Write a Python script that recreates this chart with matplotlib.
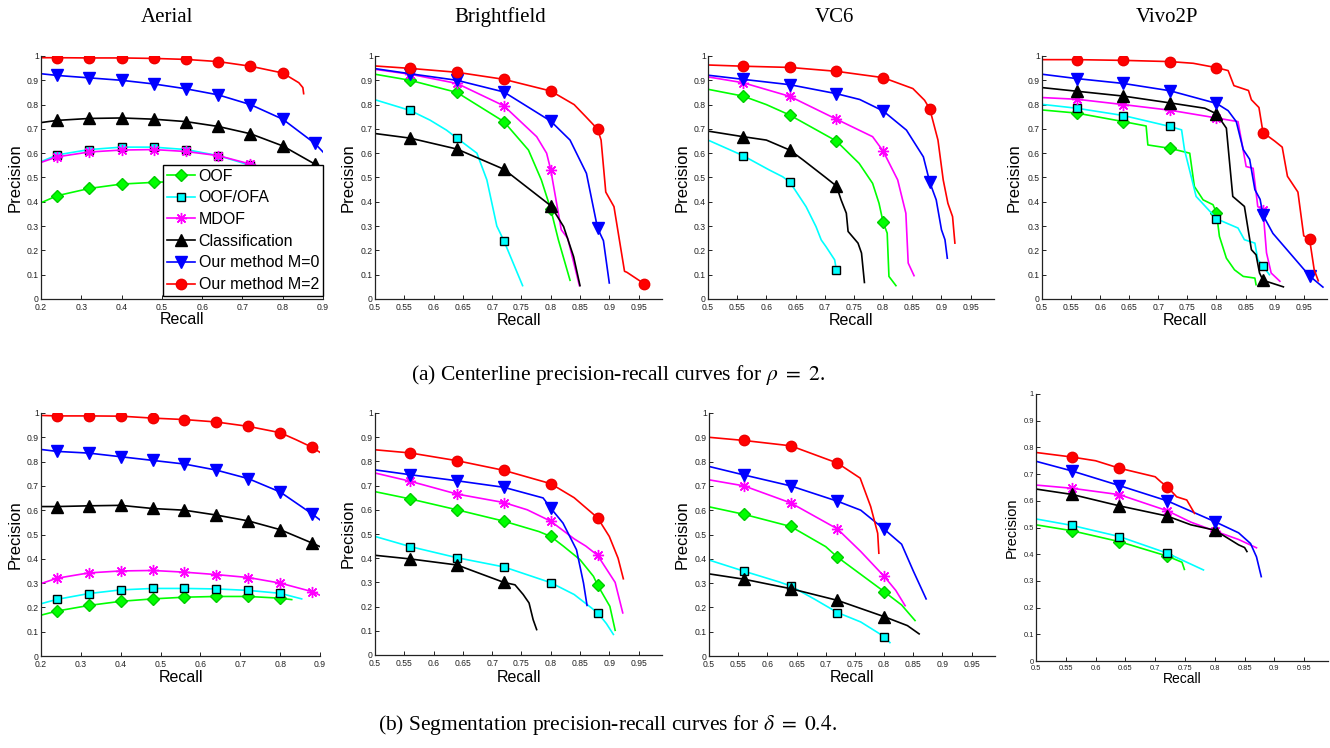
import numpy as np
import matplotlib
matplotlib.use('Agg')
import matplotlib.pyplot as plt

W, H = 1330, 748

METHODS = ['OOF', 'OOF/OFA', 'MDOF', 'Classification', 'Our method M=0', 'Our method M=2']
MARKS_AERIAL = [0.24, 0.32, 0.40, 0.48, 0.56, 0.64, 0.72, 0.80, 0.88]
MARKS_OTHER = [0.56, 0.64, 0.72, 0.80, 0.88, 0.96]

# each entry: (recall, precision)
#(a) centerline, Aerial
aerial_a = {
    'OOF': ([0.20, 0.24, 0.32, 0.40, 0.48, 0.56, 0.64, 0.72, 0.80],
            [0.396, 0.425, 0.455, 0.473, 0.48, 0.485, 0.48, 0.47, 0.455]),
    'OOF/OFA': ([0.20, 0.24, 0.32, 0.40, 0.48, 0.56, 0.64, 0.72, 0.80],
                [0.565, 0.593, 0.615, 0.625, 0.625, 0.615, 0.59, 0.55, 0.50]),
    'MDOF': ([0.20, 0.24, 0.32, 0.40, 0.48, 0.56, 0.64, 0.72, 0.80, 0.88],
             [0.562, 0.585, 0.605, 0.613, 0.615, 0.607, 0.59, 0.555, 0.50, 0.43]),
    'Classification': ([0.20, 0.24, 0.32, 0.40, 0.48, 0.56, 0.64, 0.72, 0.80, 0.88, 0.90],
                       [0.726, 0.735, 0.743, 0.745, 0.74, 0.73, 0.71, 0.68, 0.63, 0.555, 0.523]),
    'Our method M=0': ([0.20, 0.24, 0.32, 0.40, 0.48, 0.56, 0.64, 0.72, 0.80, 0.88, 0.90],
                       [0.927, 0.92, 0.91, 0.90, 0.885, 0.865, 0.84, 0.80, 0.74, 0.64, 0.605]),
    'Our method M=2': ([0.20, 0.24, 0.32, 0.40, 0.48, 0.56, 0.64, 0.72, 0.80, 0.84, 0.85, 0.852],
                       [0.993, 0.993, 0.992, 0.992, 0.99, 0.986, 0.977, 0.958, 0.93, 0.89, 0.87, 0.845]),
}

#(a) Brightfield
bright_a = {
    'OOF': ([0.50, 0.56, 0.64, 0.72, 0.762, 0.784, 0.80, 0.813, 0.833],
            [0.925, 0.90, 0.85, 0.73, 0.613, 0.49, 0.37, 0.244, 0.077]),
    'OOF/OFA': ([0.50, 0.56, 0.594, 0.622, 0.64, 0.674, 0.691, 0.708, 0.72, 0.752],
                [0.82, 0.776, 0.736, 0.695, 0.662, 0.60, 0.49, 0.30, 0.24, 0.055]),
    'MDOF': ([0.50, 0.56, 0.64, 0.72, 0.776, 0.793, 0.80, 0.818, 0.829, 0.849],
             [0.945, 0.925, 0.887, 0.795, 0.668, 0.60, 0.532, 0.285, 0.25, 0.055]),
    'Classification': ([0.50, 0.56, 0.64, 0.72, 0.80, 0.822, 0.839, 0.85],
                       [0.681, 0.662, 0.617, 0.534, 0.384, 0.298, 0.175, 0.055]),
    'Our method M=0': ([0.50, 0.56, 0.64, 0.72, 0.80, 0.833, 0.861, 0.88, 0.89, 0.90],
                       [0.948, 0.927, 0.90, 0.852, 0.732, 0.654, 0.517, 0.291, 0.24, 0.066]),
    'Our method M=2': ([0.50, 0.56, 0.64, 0.72, 0.80, 0.84, 0.86, 0.88, 0.886, 0.894, 0.908, 0.926, 0.93, 0.96],
                       [0.959, 0.949, 0.933, 0.904, 0.856, 0.80, 0.75, 0.699, 0.654, 0.44, 0.38, 0.114, 0.11, 0.062]),
}

#(a) VC6
vc6_a = {
    'OOF': ([0.50, 0.56, 0.60, 0.64, 0.72, 0.759, 0.782, 0.793, 0.80, 0.807, 0.81, 0.822],
            [0.863, 0.835, 0.80, 0.757, 0.65, 0.558, 0.476, 0.394, 0.316, 0.271, 0.093, 0.055]),
    'OOF/OFA': ([0.50, 0.56, 0.605, 0.628, 0.64, 0.668, 0.685, 0.694, 0.702, 0.717, 0.72],
                [0.654, 0.59, 0.531, 0.503, 0.482, 0.38, 0.298, 0.243, 0.216, 0.161, 0.118]),
    'MDOF': ([0.50, 0.56, 0.64, 0.72, 0.782, 0.80, 0.825, 0.839, 0.843, 0.853],
             [0.914, 0.89, 0.834, 0.74, 0.668, 0.609, 0.49, 0.353, 0.148, 0.096]),
    'Classification': ([0.50, 0.56, 0.60, 0.64, 0.663, 0.70, 0.72, 0.728, 0.737, 0.74, 0.757, 0.763, 0.768],
                       [0.691, 0.668, 0.654, 0.613, 0.572, 0.503, 0.465, 0.408, 0.353, 0.278, 0.23, 0.189, 0.068]),
    'Our method M=0': ([0.50, 0.56, 0.64, 0.72, 0.76, 0.80, 0.84, 0.869, 0.88, 0.891, 0.90, 0.906, 0.91],
                       [0.921, 0.904, 0.882, 0.845, 0.821, 0.774, 0.695, 0.585, 0.48, 0.408, 0.285, 0.244, 0.168]),
    'Our method M=2': ([0.50, 0.56, 0.64, 0.72, 0.80, 0.851, 0.871, 0.88, 0.894, 0.903, 0.911, 0.919, 0.923],
                       [0.963, 0.958, 0.953, 0.937, 0.911, 0.866, 0.818, 0.782, 0.654, 0.49, 0.394, 0.339, 0.23]),
}

#(a) Vivo2P
vivo_a = {
    'OOF': ([0.50, 0.56, 0.64, 0.679, 0.682, 0.72, 0.754, 0.762, 0.777, 0.794, 0.80, 0.805, 0.817, 0.831, 0.846, 0.866, 0.868],
            [0.778, 0.765, 0.73, 0.712, 0.634, 0.62, 0.60, 0.463, 0.408, 0.388, 0.355, 0.258, 0.168, 0.12, 0.093, 0.086, 0.059]),
    'OOF/OFA': ([0.50, 0.56, 0.64, 0.72, 0.74, 0.745, 0.765, 0.794, 0.80, 0.837, 0.848, 0.866, 0.871, 0.88, 0.891],
                [0.801, 0.785, 0.755, 0.71, 0.696, 0.614, 0.422, 0.347, 0.33, 0.292, 0.244, 0.23, 0.162, 0.135, 0.10]),
    'MDOF': ([0.50, 0.56, 0.64, 0.72, 0.80, 0.837, 0.851, 0.863, 0.871, 0.88, 0.886, 0.894, 0.909],
             [0.829, 0.822, 0.80, 0.777, 0.745, 0.73, 0.545, 0.538, 0.38, 0.367, 0.19, 0.107, 0.073]),
    'Classification': ([0.50, 0.56, 0.64, 0.72, 0.78, 0.80, 0.817, 0.821, 0.828, 0.848, 0.854, 0.86, 0.868, 0.874, 0.88, 0.915],
                       [0.87, 0.855, 0.835, 0.807, 0.785, 0.762, 0.703, 0.60, 0.422, 0.381, 0.292, 0.203, 0.182, 0.107, 0.077, 0.05]),
    'Our method M=0': ([0.50, 0.56, 0.64, 0.72, 0.80, 0.82, 0.834, 0.846, 0.857, 0.866, 0.875, 0.88, 0.897, 0.96, 0.983],
                       [0.925, 0.907, 0.887, 0.857, 0.805, 0.775, 0.73, 0.615, 0.575, 0.45, 0.41, 0.345, 0.27, 0.095, 0.049]),
    'Our method M=2': ([0.50, 0.56, 0.64, 0.72, 0.76, 0.80, 0.82, 0.83, 0.855, 0.86, 0.873, 0.88, 0.90, 0.913, 0.922, 0.94, 0.95, 0.96, 0.968, 0.975],
                       [0.985, 0.985, 0.982, 0.977, 0.97, 0.952, 0.94, 0.878, 0.858, 0.82, 0.788, 0.685, 0.65, 0.625, 0.505, 0.44, 0.26, 0.247, 0.12, 0.075]),
}

#(b) segmentation, Aerial
aerial_b = {
    'OOF': ([0.20, 0.24, 0.32, 0.40, 0.48, 0.56, 0.64, 0.72, 0.80, 0.829],
            [0.168, 0.185, 0.208, 0.225, 0.235, 0.242, 0.245, 0.245, 0.238, 0.232]),
    'OOF/OFA': ([0.20, 0.24, 0.32, 0.40, 0.48, 0.56, 0.64, 0.72, 0.80, 0.854],
                [0.215, 0.233, 0.257, 0.272, 0.278, 0.278, 0.276, 0.27, 0.258, 0.235]),
    'MDOF': ([0.20, 0.24, 0.32, 0.40, 0.48, 0.56, 0.64, 0.72, 0.80, 0.88, 0.90],
             [0.298, 0.32, 0.342, 0.35, 0.352, 0.345, 0.335, 0.323, 0.30, 0.265, 0.25]),
    'Classification': ([0.20, 0.24, 0.32, 0.40, 0.48, 0.56, 0.64, 0.72, 0.80, 0.88, 0.90],
                       [0.615, 0.615, 0.618, 0.62, 0.607, 0.60, 0.58, 0.556, 0.52, 0.465, 0.45]),
    'Our method M=0': ([0.20, 0.24, 0.32, 0.40, 0.48, 0.56, 0.64, 0.72, 0.80, 0.88, 0.90],
                       [0.85, 0.842, 0.835, 0.82, 0.805, 0.79, 0.765, 0.73, 0.675, 0.585, 0.56]),
    'Our method M=2': ([0.20, 0.24, 0.32, 0.40, 0.48, 0.56, 0.64, 0.72, 0.80, 0.84, 0.88, 0.90],
                       [0.99, 0.988, 0.988, 0.987, 0.979, 0.973, 0.963, 0.945, 0.919, 0.89, 0.859, 0.838]),
}

#(b) Brightfield
bright_b = {
    'OOF': ([0.50, 0.56, 0.64, 0.72, 0.78, 0.80, 0.822, 0.85, 0.873, 0.88, 0.901, 0.91],
            [0.675, 0.645, 0.60, 0.553, 0.51, 0.49, 0.449, 0.394, 0.325, 0.289, 0.201, 0.102]),
    'OOF/OFA': ([0.50, 0.56, 0.64, 0.72, 0.80, 0.84, 0.88, 0.895, 0.907],
                [0.49, 0.448, 0.402, 0.364, 0.299, 0.25, 0.175, 0.13, 0.085]),
    'MDOF': ([0.50, 0.56, 0.64, 0.72, 0.76, 0.80, 0.84, 0.86, 0.88, 0.91, 0.923],
             [0.752, 0.718, 0.665, 0.63, 0.60, 0.553, 0.48, 0.45, 0.412, 0.30, 0.174]),
    'Classification': ([0.50, 0.56, 0.64, 0.72, 0.739, 0.753, 0.763, 0.77, 0.776],
                       [0.412, 0.397, 0.372, 0.30, 0.29, 0.25, 0.215, 0.146, 0.105]),
    'Our method M=0': ([0.50, 0.56, 0.64, 0.72, 0.787, 0.80, 0.821, 0.844, 0.856, 0.862],
                       [0.765, 0.745, 0.72, 0.693, 0.649, 0.607, 0.545, 0.435, 0.297, 0.205]),
    'Our method M=2': ([0.50, 0.56, 0.64, 0.72, 0.80, 0.84, 0.88, 0.90, 0.915, 0.924],
                       [0.848, 0.835, 0.803, 0.763, 0.708, 0.65, 0.567, 0.49, 0.40, 0.315]),
}

#(b) VC6
vc6_b = {
    'OOF': ([0.50, 0.56, 0.64, 0.70, 0.72, 0.80, 0.83, 0.853],
            [0.614, 0.583, 0.533, 0.45, 0.407, 0.265, 0.21, 0.146]),
    'OOF/OFA': ([0.50, 0.56, 0.62, 0.64, 0.68, 0.72, 0.76, 0.80, 0.81],
                [0.395, 0.349, 0.305, 0.288, 0.235, 0.179, 0.14, 0.08, 0.055]),
    'MDOF': ([0.50, 0.56, 0.64, 0.72, 0.76, 0.80, 0.82, 0.836],
             [0.725, 0.70, 0.63, 0.523, 0.43, 0.328, 0.27, 0.207]),
    'Classification': ([0.50, 0.56, 0.64, 0.72, 0.80, 0.84, 0.86],
                       [0.338, 0.316, 0.277, 0.229, 0.162, 0.125, 0.091]),
    'Our method M=0': ([0.50, 0.56, 0.64, 0.72, 0.76, 0.80, 0.83, 0.85, 0.872],
                       [0.78, 0.745, 0.70, 0.637, 0.60, 0.522, 0.46, 0.35, 0.235]),
    'Our method M=2': ([0.50, 0.56, 0.64, 0.72, 0.759, 0.777, 0.789, 0.791],
                       [0.90, 0.887, 0.865, 0.794, 0.732, 0.615, 0.505, 0.423]),
}

#(b) Vivo2P
vivo_b = {
    'OOF': ([0.50, 0.56, 0.64, 0.72, 0.745, 0.749],
            [0.51, 0.488, 0.447, 0.393, 0.37, 0.343]),
    'OOF/OFA': ([0.50, 0.56, 0.64, 0.72, 0.781],
                [0.532, 0.508, 0.466, 0.404, 0.341]),
    'MDOF': ([0.50, 0.56, 0.64, 0.72, 0.76, 0.80, 0.84, 0.87],
             [0.659, 0.647, 0.623, 0.563, 0.52, 0.487, 0.455, 0.424]),
    'Classification': ([0.50, 0.56, 0.64, 0.72, 0.76, 0.80, 0.84, 0.85, 0.854],
                       [0.644, 0.624, 0.581, 0.543, 0.51, 0.49, 0.435, 0.425, 0.41]),
    'Our method M=0': ([0.50, 0.56, 0.64, 0.72, 0.80, 0.84, 0.86, 0.87, 0.878],
                       [0.748, 0.712, 0.657, 0.60, 0.522, 0.48, 0.44, 0.39, 0.316]),
    'Our method M=2': ([0.50, 0.56, 0.60, 0.64, 0.70, 0.71, 0.72, 0.736, 0.753, 0.766],
                       [0.781, 0.764, 0.75, 0.722, 0.69, 0.67, 0.653, 0.615, 0.603, 0.553]),
}

TITLES = ['Aerial', 'Brightfield', 'VC6', 'Vivo2P']
CAPTION_A = r'(a) Centerline precision-recall curves for $\rho\ =\ 2$.'
CAPTION_B = r'(b) Segmentation precision-recall curves for $\delta\ =\ 0.4$.'

# styles
STYLE = {
    'OOF': dict(color='#00ff00', marker='D', ms=6, mfc='#00ff00', mec='#00cc00'),
    'OOF/OFA': dict(color='#00ffff', marker='s', ms=5.5, mfc='#00ffff', mec='k', mew=1.0),
    'MDOF': dict(color='#ff00ff', marker=(8, 2, 0), ms=8, mec='#ff00ff', mew=1.0),
    'Classification': dict(color='k', marker='^', ms=8, mfc='k', mec='k'),
    'Our method M=0': dict(color='#0000ff', marker='v', ms=8, mfc='#0000ff', mec='#0000ff'),
    'Our method M=2': dict(color='#ff0000', marker='o', ms=7.5, mfc='#ff0000', mec='#ee0000'),
}

plt.rcParams['font.family'] = ['Liberation Sans', 'DejaVu Sans']
plt.rcParams['mathtext.fontset'] = 'stix'

fig = plt.figure(figsize=(W / 100, H / 100), dpi=100)

# panel boxes in pixels: left, top, right, bottom ; label centres
panels = [
    (aerial_a, (41, 56, 323, 299), (15, 320), (0.2, 0.9), MARKS_AERIAL, 6.2),
    (bright_a, (375, 56, 662, 299), (348, 321), (0.5, 0.99), MARKS_OTHER, 6.2),
    (vc6_a, (708, 56, 994, 299), (682, 321), (0.5, 0.99), MARKS_OTHER, 6.2),
    (vivo_a, (1042, 56, 1327, 299), (1014, 321), (0.5, 0.99), MARKS_OTHER, 6.2),
    (aerial_b, (41, 413, 320, 656), (15, 678), (0.2, 0.9), MARKS_AERIAL, 6.2),
    (bright_b, (375, 413, 662, 655), (348, 678), (0.5, 0.99), MARKS_OTHER, 6.2),
    (vc6_b, (709, 413, 995, 656), (682, 678), (0.5, 0.99), MARKS_OTHER, 6.2),
    (vivo_b, (1036, 394, 1328, 661), (1012, 679), (0.5, 0.99), MARKS_OTHER, 5.4),
]

for i, (data, box, lab, xl, marks, tfs) in enumerate(panels):
    x0, y0, x1, y1 = box
    ax = fig.add_axes([x0 / W, 1 - y1 / H, (x1 - x0) / W, (y1 - y0) / H])
    for name in METHODS:
        r, p = data[name]
        r = np.array(r)
        mask = np.isclose(r[:, None], np.array(marks)[None, :], atol=1e-6).any(axis=1)
        ax.plot(r, p, lw=1.2, markevery=list(mask), label=name, **STYLE[name])
    ax.set_xlim(*xl)
    ax.set_ylim(0, 1)
    if xl[0] == 0.2:
        ax.set_xticks(np.arange(0.2, 0.91, 0.1))
    else:
        ax.set_xticks(np.arange(0.5, 0.951, 0.05))
    ax.set_yticks(np.arange(0, 1.01, 0.1))
    ax.xaxis.set_major_formatter(matplotlib.ticker.FormatStrFormatter('%g'))
    ax.yaxis.set_major_formatter(matplotlib.ticker.FormatStrFormatter('%g'))
    ax.tick_params(direction='in', length=3, width=0.7, labelsize=tfs, colors='#222222')
    ax.tick_params(axis='x', pad=3)
    ax.tick_params(axis='y', pad=1.5)
    for s in ['top', 'right']:
        ax.spines[s].set_visible(False)
    for s in ['left', 'bottom']:
        ax.spines[s].set_linewidth(0.9)
        ax.spines[s].set_color('#222222')
    lfs = 10.5 if i == 7 else 12
    ax.set_xlabel('Recall', fontsize=lfs - 0.5, va='center', ha='center')
    ax.set_ylabel('Precision', fontsize=lfs, va='center', ha='center')
    ax.xaxis.set_label_coords(0.5, (y1 - lab[1]) / (y1 - y0))
    ax.yaxis.set_label_coords((lab[0] - x0) / (x1 - x0), 0.5)
    if i == 0:
        leg = ax.legend(loc='lower right', bbox_to_anchor=(1.0, 0.012), borderaxespad=0,
                        fontsize=11.5, handlelength=1.8, handletextpad=0.2, labelspacing=0.42,
                        borderpad=0.25, fancybox=False, framealpha=1, edgecolor='k', numpoints=1)
        leg.get_frame().set_linewidth(1.0)

for t, xc in zip(TITLES, [167, 500, 834, 1167]):
    fig.text(xc / W, 1 - 17 / H, t, ha='center', va='center', fontsize=15,
             family='Liberation Serif')

fig.text(618 / W, 1 - 375 / H, CAPTION_A, ha='center', va='center', fontsize=15.5,
         family='Liberation Serif')
fig.text(607 / W, 1 - 725 / H, CAPTION_B, ha='center', va='center', fontsize=15.5,
         family='Liberation Serif')

fig.savefig('out.png', dpi=100)
